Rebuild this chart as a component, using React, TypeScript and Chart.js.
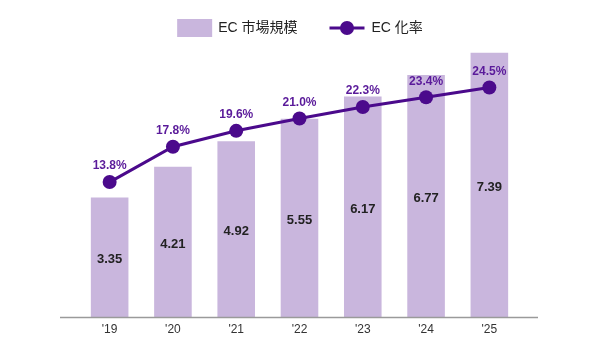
import React, { useEffect, useRef } from "react";
import { Chart, registerables } from "chart.js";

Chart.register(...registerables);

const categories = ["'19", "'20", "'21", "'22", "'23", "'24", "'25"];
const marketSize = [3.35, 4.21, 4.92, 5.55, 6.17, 6.77, 7.39];
const ecRate = [13.8, 17.8, 19.6, 21.0, 22.3, 23.4, 24.5];
const barLabel = "EC 市場規模";
const lineLabel = "EC 化率";

const BAR_COLOR = "#c9b6dd";
const LINE_COLOR = "#4b0a8c";
const FONT = "'Liberation Sans', Arial, 'Noto Sans CJK JP', sans-serif";

const labelsPlugin = {
  id: "customLabels",
  afterDatasetsDraw(chart: any) {
    const ctx = chart.ctx;
    ctx.save();
    const barMeta = chart.getDatasetMeta(0);
    ctx.font = `bold 13px ${FONT}`;
    ctx.fillStyle = "#222";
    ctx.textAlign = "center";
    ctx.textBaseline = "middle";
    barMeta.data.forEach((el: any, i: number) => {
      const mid = (el.y + el.base) / 2 + 2;
      ctx.fillText(marketSize[i].toFixed(2), el.x, mid);
    });
    const lineMeta = chart.getDatasetMeta(1);
    ctx.font = `bold 12px ${FONT}`;
    ctx.fillStyle = "#5a1a9a";
    lineMeta.data.forEach((el: any, i: number) => {
      ctx.fillText(ecRate[i].toFixed(1) + "%", el.x, el.y - 16);
    });
    ctx.restore();
  },
  afterDraw(chart: any) {
    const ctx = chart.ctx;
    const area = chart.chartArea;
    ctx.save();
    ctx.strokeStyle = "#9a9a9a";
    ctx.lineWidth = 1.5;
    ctx.beginPath();
    ctx.moveTo(area.left - 18, area.bottom);
    ctx.lineTo(area.right + 17, area.bottom);
    ctx.stroke();

    ctx.font = `14px ${FONT}`;
    const w1 = ctx.measureText(barLabel).width;
    const w2 = ctx.measureText(lineLabel).width;
    const total = 35 + 6 + w1 + 32 + 35 + 7 + w2;
    let x = chart.width / 2 - total / 2;
    const cy = 28;
    ctx.fillStyle = BAR_COLOR;
    ctx.fillRect(x, cy - 9, 35, 18);
    x += 41;
    ctx.fillStyle = "#222";
    ctx.textAlign = "left";
    ctx.textBaseline = "middle";
    ctx.fillText(barLabel, x, cy);
    x += w1 + 32;
    ctx.strokeStyle = LINE_COLOR;
    ctx.lineWidth = 3;
    ctx.beginPath();
    ctx.moveTo(x, cy);
    ctx.lineTo(x + 35, cy);
    ctx.stroke();
    ctx.fillStyle = LINE_COLOR;
    ctx.beginPath();
    ctx.arc(x + 17.5, cy, 7, 0, Math.PI * 2);
    ctx.fill();
    x += 42;
    ctx.fillStyle = "#222";
    ctx.fillText(lineLabel, x, cy);
    ctx.restore();
  },
};

export default function App() {
  const ref = useRef<HTMLCanvasElement>(null);
  useEffect(() => {
    if (!ref.current) return;
    const chart = new Chart(ref.current, {
      type: "bar",
      data: {
        labels: categories,
        datasets: [
          {
            type: "bar",
            label: barLabel,
            data: marketSize,
            backgroundColor: BAR_COLOR,
            categoryPercentage: 1,
            barPercentage: 0.594,
            yAxisID: "y",
            order: 2,
          },
          {
            type: "line",
            label: lineLabel,
            data: ecRate,
            borderColor: LINE_COLOR,
            backgroundColor: LINE_COLOR,
            borderWidth: 3,
            pointRadius: 7,
            pointHoverRadius: 7,
            pointBackgroundColor: LINE_COLOR,
            pointBorderWidth: 0,
            tension: 0,
            yAxisID: "y2",
            order: 1,
          },
        ] as any,
      },
      options: {
        responsive: false,
        animation: false,
        layout: { padding: { left: 78, right: 79, top: 31, bottom: 8 } },
        plugins: { legend: { display: false }, tooltip: { enabled: false } },
        scales: {
          x: {
            grid: { display: false, drawTicks: false },
            border: { display: false },
            ticks: { color: "#333", font: { family: FONT, size: 12 }, padding: 5 },
          },
          y: { display: false, min: 0, max: 8 },
          y2: { display: false, min: -1.54, max: 30.9 },
        },
      },
      plugins: [labelsPlugin],
    });
    return () => chart.destroy();
  }, []);
  return (
    <div style={{ position: "fixed", left: 0, top: 0, width: 600, height: 350, background: "#fff" }}>
      <canvas ref={ref} width={600} height={350} />
    </div>
  );
}
